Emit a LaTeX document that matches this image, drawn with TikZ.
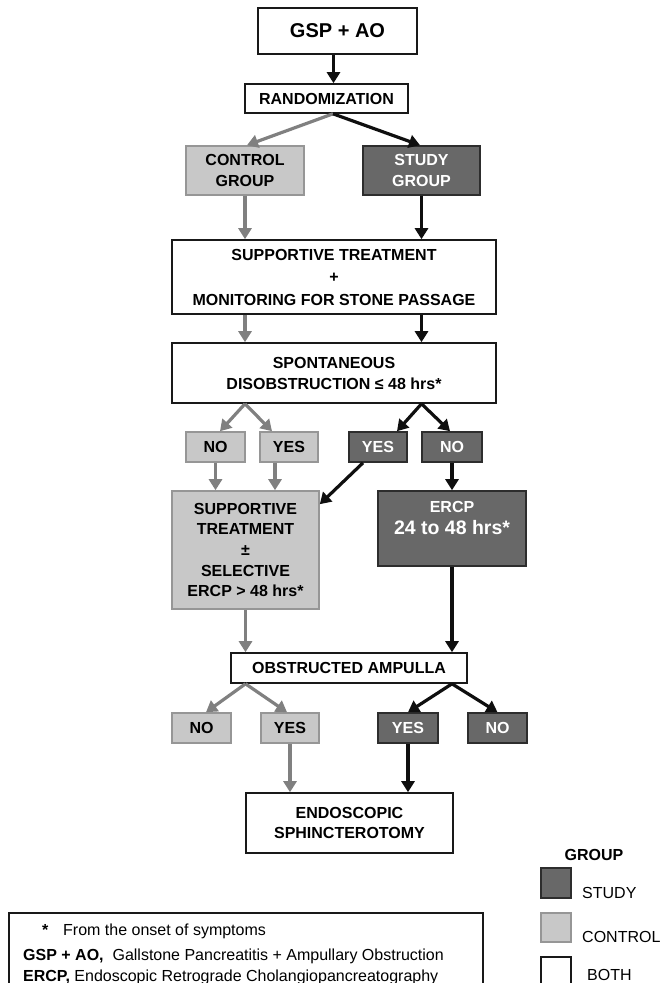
\documentclass[tikz,border=0pt]{standalone}
\usepackage{fontspec}
\setmainfont{Liberation Sans}
\usetikzlibrary{arrows.meta}
\definecolor{studyfill}{RGB}{104,104,104}
\definecolor{studyline}{RGB}{45,45,45}
\definecolor{ctrlfill}{RGB}{200,200,200}
\definecolor{ctrlline}{RGB}{150,150,150}
\definecolor{bothline}{RGB}{25,25,25}
\definecolor{garrow}{RGB}{128,128,128}
\definecolor{barrow}{RGB}{15,15,15}
\tikzset{
  base/.style={draw, line width=1.6pt, inner sep=0pt, align=center,
    font=\fontsize{16}{21}\selectfont\bfseries},
  bothbox/.style={base, draw=bothline, fill=white, text=black},
  studybox/.style={base, draw=studyline, fill=studyfill, text=white},
  ctrlbox/.style={base, draw=ctrlline, fill=ctrlfill, text=black},
  garr/.style={draw=garrow, line width=3.2pt, -{Triangle[length=11pt,width=13pt]}},
  barr/.style={draw=barrow, line width=3.2pt, -{Triangle[length=11pt,width=13pt]}},
  legtext/.style={inner sep=0pt, anchor=base west, font=\fontsize{16}{19}\selectfont},
}
\begin{document}
\begin{tikzpicture}[x=1pt,y=-1pt]
\clip (0,0) rectangle (661,983);
\fill[white] (0,0) rectangle (661,983);

% boxes
\node[bothbox, minimum width=159pt, minimum height=46pt, font=\fontsize{20}{24}\selectfont\bfseries] (gsp) at (337.5,31) {GSP + AO};
\node[bothbox, minimum width=163pt, minimum height=29pt] (rand) at (326.5,98.5) {RANDOMIZATION};
\node[ctrlbox, minimum width=118pt, minimum height=49pt] (ctrl) at (245,170.5) {CONTROL\\GROUP};
\node[studybox, minimum width=117pt, minimum height=49pt] (study) at (421.5,170.5) {STUDY\\GROUP};
\node[bothbox, minimum width=324pt, minimum height=74pt, font=\fontsize{16}{22.5}\selectfont\bfseries] (supp) at (334,277) {SUPPORTIVE TREATMENT\\+\\MONITORING FOR STONE PASSAGE};
\node[bothbox, minimum width=324pt, minimum height=60pt] (spont) at (334,373) {SPONTANEOUS\\DISOBSTRUCTION ≤ 48 hrs*};

\node[ctrlbox, minimum width=59pt, minimum height=30pt] (no1) at (215.5,447) {NO};
\node[ctrlbox, minimum width=58pt, minimum height=30pt] (yes1) at (289,447) {YES};
\node[studybox, minimum width=58pt, minimum height=30pt] (yes2) at (378,447) {YES};
\node[studybox, minimum width=60pt, minimum height=30pt] (no2) at (452,447) {NO};

\node[ctrlbox, minimum width=147pt, minimum height=118pt, font=\fontsize{16}{20.7}\selectfont\bfseries] (csupp) at (245.5,550) {SUPPORTIVE\\TREATMENT\\±\\SELECTIVE\\ERCP > 48 hrs*};
\node[studybox, minimum width=148pt, minimum height=75pt] (ercp) at (452,528.5) {};
\node[inner sep=0pt, align=center, text=white, font=\fontsize{16}{22}\selectfont\bfseries] (ercptext) at (452,518) {ERCP\\{\fontsize{19.5}{22}\selectfont 24 to 48 hrs*}};

\node[bothbox, minimum width=236pt, minimum height=30pt] (obs) at (349,668) {OBSTRUCTED AMPULLA};

\node[ctrlbox, minimum width=59pt, minimum height=30pt] (no3) at (201.5,728) {NO};
\node[ctrlbox, minimum width=58pt, minimum height=30pt] (yes3) at (290,728) {YES};
\node[studybox, minimum width=60pt, minimum height=30pt] (yes4) at (408,728) {YES};
\node[studybox, minimum width=59pt, minimum height=30pt] (no4) at (497.5,728) {NO};

\node[bothbox, minimum width=207pt, minimum height=60pt, font=\fontsize{16}{19.5}\selectfont\bfseries] (endo) at (349.5,823) {ENDOSCOPIC\\SPHINCTEROTOMY};

% connectors
\draw[barr] ([xshift=7pt]gsp.south -| rand.north) -- ([xshift=7pt]rand.north);
\draw[garr] ([xshift=6.5pt]rand.south) -- ([xshift=2pt]ctrl.north);
\draw[barr] ([xshift=6.5pt]rand.south) -- ([xshift=-1.5pt]study.north);
\draw[garr] (ctrl.south) -- (ctrl.south |- supp.north);
\draw[barr] (study.south) -- (study.south |- supp.north);
\draw[garr] (supp.south -| ctrl.south) -- (spont.north -| ctrl.south);
\draw[barr] (supp.south -| study.south) -- (spont.north -| study.south);

\draw[garr] (spont.south -| ctrl.south) -- ([xshift=4.5pt]no1.north);
\draw[garr] (spont.south -| ctrl.south) -- ([xshift=-17pt]yes1.north);
\draw[barr] (spont.south -| study.south) -- ([xshift=19pt]yes2.north);
\draw[barr] (spont.south -| study.south) -- ([xshift=-2pt]no2.north);

\draw[garr] (no1.south) -- (no1.south |- csupp.north);
\draw[garr] ([xshift=-14pt]yes1.south) -- ([xshift=-14pt]yes1.south |- csupp.north);
\draw[barr] ([xshift=-15pt]yes2.south) -- ([yshift=-14pt]csupp.north east);
\draw[barr] (no2.south) -- (no2.south |- ercp.north);

\draw[garr] (csupp.south) -- (csupp.south |- obs.north);
\draw[barr] (ercp.south) -- (ercp.south |- obs.north);

\draw[garr] (obs.south -| csupp.south) -- ([xshift=4.5pt]no3.north);
\draw[garr] (obs.south -| csupp.south) -- ([xshift=-3pt]yes3.north);
\draw[barr] (obs.south -| ercp.south) -- (yes4.north);
\draw[barr] (obs.south -| ercp.south) -- (no4.north);

\draw[garr] (yes3.south) -- (yes3.south |- endo.north);
\draw[barr] (yes4.south) -- (yes4.south |- endo.north);

% legend box
\draw[draw=bothline, line width=1.4pt] (9,913) rectangle (483,1000);
\node[legtext, font=\fontsize{16}{19}\selectfont\bfseries] (star) at (42,935) {*};
\node[legtext] (l1) at (63,935) {From the onset of symptoms};
\node[legtext] (l2) at (23,960) {\textbf{GSP + AO,}\ \ Gallstone Pancreatitis + Ampullary Obstruction};
\node[legtext] (l3) at (23,981) {\textbf{ERCP,} Endoscopic Retrograde Cholangiopancreatography};

% group legend
\node[inner sep=0pt, anchor=base, font=\fontsize{16}{19}\selectfont\bfseries] (grp) at (594,860) {GROUP};
\draw[draw=studyline, fill=studyfill, line width=1.4pt] (541,868) rectangle (571,898);
\draw[draw=ctrlline, fill=ctrlfill, line width=1.4pt] (541,913) rectangle (571,942);
\draw[draw=bothline, fill=white, line width=1.4pt] (541,957) rectangle (571,995);
\node[legtext] (lstudy) at (582,898) {STUDY};
\node[legtext] (lctrl) at (582,942) {CONTROL};
\node[legtext] (lboth) at (587,980) {BOTH};
\end{tikzpicture}
\end{document}
